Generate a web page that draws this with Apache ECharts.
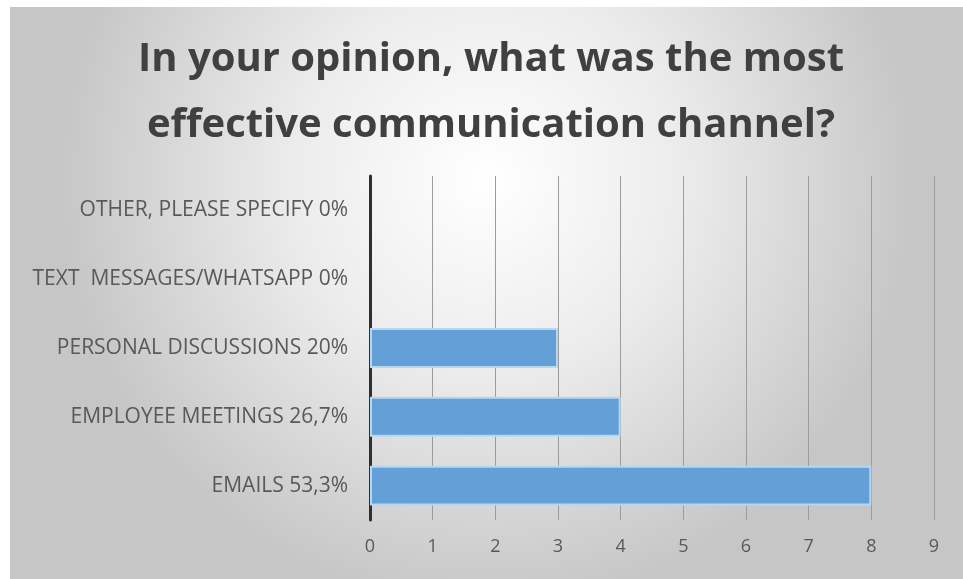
<!DOCTYPE html>
<html>
<head>
<meta charset="utf-8">
<script src="https://cdn.jsdelivr.net/npm/echarts@6/dist/echarts.min.js"></script>
<style>
  html, body { margin: 0; padding: 0; background: #ffffff; }
  #chart { position: absolute; left: 10px; top: 7px; width: 953px; height: 572px; }
</style>
</head>
<body>
<div id="chart"></div>
<script>
// Survey answers, listed bottom-to-top as they appear on the category axis
const categories = [
  'EMAILS 53,3%',
  'EMPLOYEE MEETINGS 26,7%',
  'PERSONAL DISCUSSIONS 20%',
  'TEXT  MESSAGES/WHATSAPP 0%',
  'OTHER, PLEASE SPECIFY 0%'
];
// Number of respondents choosing each channel
const responses = [8, 4, 3, 0, 0];
// Value axis range
const axisMin = 0;
const axisMax = 9;
const axisStep = 1;

// Empty answers get no outline so nothing is drawn for them
const barItems = responses.map(v => ({
  value: v,
  itemStyle: { borderWidth: v > 0 ? 2 : 0 }
}));

const chart = echarts.init(document.getElementById('chart'));
chart.setOption({
  backgroundColor: {
    type: 'radial', x: 0.5, y: 0.3, r: 0.75,
    colorStops: [
      { offset: 0, color: '#ffffff' },
      { offset: 0.45, color: '#ececec' },
      { offset: 1, color: '#c6c6c6' }
    ]
  },
  title: {
    text: 'In your opinion, what was the most\neffective communication channel?',
    left: 476,
    top: 15,
    textAlign: 'center',
    textStyle: {
      fontFamily: 'Open Sans',
      fontWeight: 'bold',
      fontSize: 40,
      lineHeight: 66,
      color: '#404040'
    }
  },
  grid: { left: 360, top: 169, width: 564, height: 344 },
  xAxis: {
    type: 'value',
    min: axisMin,
    max: axisMax,
    interval: axisStep,
    axisLine: { show: false },
    axisTick: { show: false },
    axisLabel: { color: '#595959', fontSize: 18, fontFamily: 'Open Sans', margin: 18 },
    splitLine: { show: true, lineStyle: { color: '#9c9c9c', width: 1 } }
  },
  yAxis: {
    type: 'category',
    data: categories,
    axisLine: { show: true, lineStyle: { color: '#2f2f2f', width: 3 } },
    axisTick: { show: false },
    axisLabel: { color: '#595959', fontSize: 21, fontFamily: 'Open Sans', margin: 22 }
  },
  series: [{
    type: 'bar',
    data: barItems,
    barCategoryGap: '42%',
    itemStyle: {
      color: '#63a0d8',
      borderColor: '#b9d6f0'
    },
    silent: true
  }]
});
</script>
</body>
</html>
